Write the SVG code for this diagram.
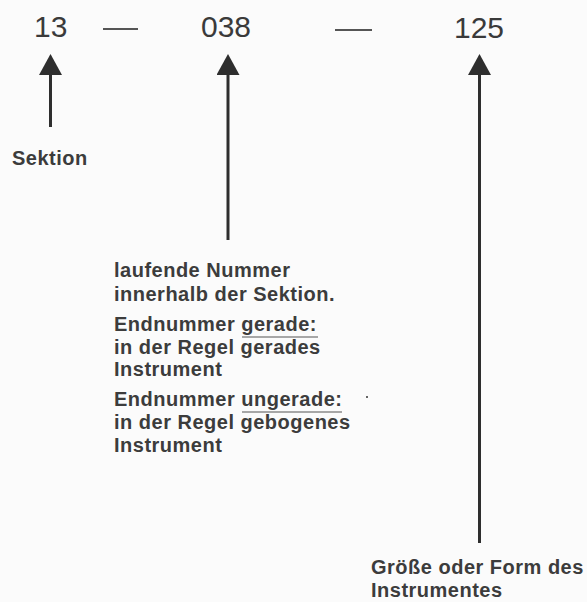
<svg xmlns="http://www.w3.org/2000/svg" width="587" height="602" viewBox="0 0 587 602">
  <style>
    .num { font-family: "Liberation Sans", Arial, sans-serif; font-size: 30px; fill: #3a3a3a; }
    .dash { stroke: #555; stroke-width: 2; }
    .lbl { font-family: "Liberation Sans", Arial, sans-serif; font-size: 20px; font-weight: bold; fill: #3c3c3c; letter-spacing: 0.5px; }
    .arrow { stroke: #2e2e2e; stroke-width: 3; fill: none; marker-end: url(#head); }
    .ul { stroke: #555; stroke-width: 1.2; }
  </style>
  <defs>
    <marker id="head" viewBox="0 0 21 23" markerWidth="21" markerHeight="23" refX="5" refY="11.5" orient="auto" markerUnits="userSpaceOnUse">
      <path d="M0,0 L21,11.5 L0,23 z" fill="#2e2e2e"/>
    </marker>
  </defs>
  <rect x="0" y="0" width="587" height="602" fill="#fbfbfb"/>

  <g id="code">
    <text class="num" x="34" y="37">13</text>
    <line class="dash" x1="103" y1="29" x2="138" y2="29"/>
    <text class="num" x="201" y="37">038</text>
    <line class="dash" x1="335" y1="30" x2="372" y2="30"/>
    <text class="num" x="454" y="38">125</text>
  </g>

  <g id="connectors">
    <line class="arrow" x1="50.5" y1="127" x2="50.5" y2="70"/>
    <line class="arrow" x1="228" y1="240" x2="228" y2="70"/>
    <line class="arrow" x1="479.5" y1="543" x2="479.5" y2="70"/>
  </g>

  <g id="sektion">
    <text class="lbl" x="12" y="165">Sektion</text>
  </g>

  <g id="laufende-nummer">
    <text class="lbl" x="114" y="277">laufende Nummer</text>
    <text class="lbl" x="114" y="301">innerhalb der Sektion.</text>
    <text class="lbl" x="114" y="331">Endnummer gerade:</text>
    <line class="ul" x1="242" y1="337" x2="318" y2="337"/>
    <text class="lbl" x="114" y="354">in der Regel gerades</text>
    <text class="lbl" x="114" y="376">Instrument</text>
    <text class="lbl" x="114" y="406">Endnummer ungerade:</text>
    <line class="ul" x1="242" y1="412" x2="342" y2="412"/>
    <text class="lbl" x="114" y="429">in der Regel gebogenes</text>
    <text class="lbl" x="114" y="452">Instrument</text>
    <circle cx="367" cy="397" r="1" fill="#333"/>
  </g>

  <g id="groesse">
    <text class="lbl" x="371" y="574">Größe oder Form des</text>
    <text class="lbl" x="371" y="597">Instrumentes</text>
  </g>
</svg>
